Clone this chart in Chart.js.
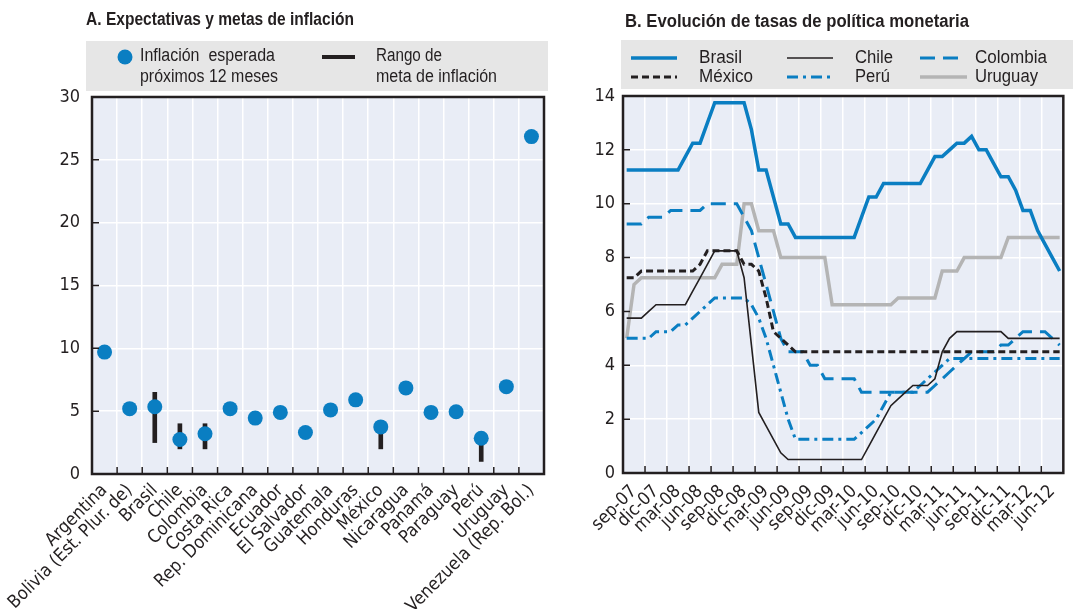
<!DOCTYPE html>
<html>
<head>
<meta charset="utf-8">
<script src="https://cdn.jsdelivr.net/npm/chart.js@4.4.1/dist/chart.umd.min.js"></script>
<style>
  body { margin: 0; width: 1083px; height: 609px; background: #fff; position: relative; overflow: hidden;
         font-family: 'Liberation Sans', Arial, sans-serif; color: #231f20; }
  canvas { position: absolute; top: 0; }
  .caja { position: absolute; background: #e6e6e6; }
  .t { position: absolute; white-space: pre; transform-origin: 0 0; font-size: 18px; line-height: 18px; }
  .b { font-weight: bold; }
  svg { position: absolute; left: 0; top: 0; }
</style>
</head>
<body>
<canvas id="graf1" width="560" height="609" style="left:0"></canvas>
<canvas id="graf2" width="523" height="609" style="left:560px"></canvas>

<div class="caja" style="left:86px; top:41px; width:462px; height:50px"></div>
<div class="caja" style="left:621px; top:40px; width:452px; height:49px"></div>

<svg width="1083" height="100">
  <circle cx="125" cy="57" r="7.5" fill="#0a7ec2"/>
  <line x1="322" y1="57" x2="355" y2="57" stroke="#231f20" stroke-width="4"/>
  <line x1="631" y1="58" x2="677" y2="58" stroke="#0a7ec2" stroke-width="3.5"/>
  <line x1="787" y1="58" x2="833" y2="58" stroke="#231f20" stroke-width="1.5"/>
  <line x1="920" y1="58" x2="961" y2="58" stroke="#0a7ec2" stroke-width="3" stroke-dasharray="15 8"/>
  <line x1="631" y1="77" x2="677" y2="77" stroke="#231f20" stroke-width="3" stroke-dasharray="7 4"/>
  <line x1="787" y1="77" x2="835" y2="77" stroke="#0a7ec2" stroke-width="3" stroke-dasharray="11 5 3 5"/>
  <line x1="920" y1="77" x2="967" y2="77" stroke="#b4b4b4" stroke-width="3.5"/>
</svg>

<!-- textos: data-w = ancho medido en la referencia -->
<div class="t b" data-w="268" style="left:86px; top:10px">A. Expectativas y metas de inflación</div>
<div class="t b" data-w="344" style="left:625px; top:12px">B. Evolución de tasas de política monetaria</div>

<div class="t" data-w="135" style="left:140px; top:46px">Inflación  esperada</div>
<div class="t" data-w="138" style="left:140px; top:67px">próximos 12 meses</div>
<div class="t" data-w="66" style="left:376px; top:46px">Rango de</div>
<div class="t" data-w="121" style="left:376px; top:67px">meta de inflación</div>

<div class="t" data-w="43" style="left:699px; top:48px">Brasil</div>
<div class="t" data-w="54" style="left:699px; top:67px">México</div>
<div class="t" data-w="38" style="left:855px; top:48px">Chile</div>
<div class="t" data-w="35" style="left:855px; top:67px">Perú</div>
<div class="t" data-w="72" style="left:975px; top:48px">Colombia</div>
<div class="t" data-w="63" style="left:975px; top:67px">Uruguay</div>

<script>
// A. Expectativas y metas de inflación
const paises = ['Argentina', 'Bolivia (Est. Plur. de)', 'Brasil', 'Chile', 'Colombia', 'Costa Rica',
  'Rep. Dominicana', 'Ecuador', 'El Salvador', 'Guatemala', 'Honduras', 'México', 'Nicaragua',
  'Panamá', 'Paraguay', 'Perú', 'Uruguay', 'Venezuela (Rep. Bol.)'];
const inflEsperada = [9.7, 5.2, 5.35, 2.75, 3.2, 5.2, 4.45, 4.9, 3.3, 5.1, 5.9, 3.75, 6.85, 4.9, 4.95, 2.85, 6.95, 26.85];
const metaMin = [null, null, 2.5, 2, 2, null, null, null, null, null, null, 2, null, null, null, 1, null, null];
const metaMax = [null, null, 6.5, 4, 4, null, null, null, null, null, null, 4, null, null, null, 3, null, null];

// B. Evolución de tasas de política monetaria (mensual, sep-07 a ago-12)
const meses = ['sep-07', 'oct-07', 'nov-07', 'dic-07', 'ene-08', 'feb-08', 'mar-08', 'abr-08', 'may-08', 'jun-08',
  'jul-08', 'ago-08', 'sep-08', 'oct-08', 'nov-08', 'dic-08', 'ene-09', 'feb-09', 'mar-09', 'abr-09', 'may-09',
  'jun-09', 'jul-09', 'ago-09', 'sep-09', 'oct-09', 'nov-09', 'dic-09', 'ene-10', 'feb-10', 'mar-10', 'abr-10',
  'may-10', 'jun-10', 'jul-10', 'ago-10', 'sep-10', 'oct-10', 'nov-10', 'dic-10', 'ene-11', 'feb-11', 'mar-11',
  'abr-11', 'may-11', 'jun-11', 'jul-11', 'ago-11', 'sep-11', 'oct-11', 'nov-11', 'dic-11', 'ene-12', 'feb-12',
  'mar-12', 'abr-12', 'may-12', 'jun-12', 'jul-12', 'ago-12'];
const trimestres = ['sep-07', 'dic-07', 'mar-08', 'jun-08', 'sep-08', 'dic-08', 'mar-09', 'jun-09', 'sep-09', 'dic-09',
  'mar-10', 'jun-10', 'sep-10', 'dic-10', 'mar-11', 'jun-11', 'sep-11', 'dic-11', 'mar-12', 'jun-12'];

const brasil = [11.25, 11.25, 11.25, 11.25, 11.25, 11.25, 11.25, 11.25, 11.75, 12.25, 12.25, 13, 13.75, 13.75, 13.75,
  13.75, 13.75, 12.75, 11.25, 11.25, 10.25, 9.25, 9.25, 8.75, 8.75, 8.75, 8.75, 8.75, 8.75, 8.75, 8.75, 8.75, 9.5,
  10.25, 10.25, 10.75, 10.75, 10.75, 10.75, 10.75, 10.75, 11.25, 11.75, 11.75, 12, 12.25, 12.25, 12.5, 12, 12, 11.5,
  11, 11, 10.5, 9.75, 9.75, 9, 8.5, 8, 7.5];
const chile = [5.75, 5.75, 5.75, 6, 6.25, 6.25, 6.25, 6.25, 6.25, 6.75, 7.25, 7.75, 8.25, 8.25, 8.25, 8.25, 7.25,
  4.75, 2.25, 1.75, 1.25, 0.75, 0.5, 0.5, 0.5, 0.5, 0.5, 0.5, 0.5, 0.5, 0.5, 0.5, 0.5, 1, 1.5, 2, 2.5, 2.75, 3,
  3.25, 3.25, 3.25, 3.5, 4.5, 5, 5.25, 5.25, 5.25, 5.25, 5.25, 5.25, 5.25, 5, 5, 5, 5, 5, 5, 5, 5];
const colombia = [9.25, 9.25, 9.25, 9.5, 9.5, 9.5, 9.75, 9.75, 9.75, 9.75, 9.75, 10, 10, 10, 10, 10, 9.5, 9, 8, 7,
  6, 5, 4.5, 4.5, 4.5, 4, 4, 3.5, 3.5, 3.5, 3.5, 3.5, 3, 3, 3, 3, 3, 3, 3, 3, 3, 3, 3.25, 3.5, 3.75, 4, 4.25,
  4.5, 4.5, 4.5, 4.5, 4.75, 4.75, 5, 5.25, 5.25, 5.25, 5.25, 5, 4.75];
const mexico = [7.25, 7.25, 7.5, 7.5, 7.5, 7.5, 7.5, 7.5, 7.5, 7.5, 7.75, 8.25, 8.25, 8.25, 8.25, 8.25, 7.75, 7.75,
  7.5, 6.5, 5.25, 5, 4.75, 4.5, 4.5, 4.5, 4.5, 4.5, 4.5, 4.5, 4.5, 4.5, 4.5, 4.5, 4.5, 4.5, 4.5, 4.5, 4.5, 4.5,
  4.5, 4.5, 4.5, 4.5, 4.5, 4.5, 4.5, 4.5, 4.5, 4.5, 4.5, 4.5, 4.5, 4.5, 4.5, 4.5, 4.5, 4.5, 4.5, 4.5];
const peru = [5, 5, 5, 5, 5.25, 5.25, 5.25, 5.5, 5.5, 5.75, 6, 6.25, 6.5, 6.5, 6.5, 6.5, 6.5, 6.25, 5.75, 5, 4, 3,
  2, 1.25, 1.25, 1.25, 1.25, 1.25, 1.25, 1.25, 1.25, 1.25, 1.5, 1.75, 2, 2.5, 3, 3, 3, 3, 3.25, 3.5, 3.75, 4,
  4.25, 4.25, 4.25, 4.25, 4.25, 4.25, 4.25, 4.25, 4.25, 4.25, 4.25, 4.25, 4.25, 4.25, 4.25, 4.25];
const uruguay = [5, 7, 7.25, 7.25, 7.25, 7.25, 7.25, 7.25, 7.25, 7.25, 7.25, 7.25, 7.25, 7.75, 7.75, 7.75, 10, 10,
  9, 9, 9, 8, 8, 8, 8, 8, 8, 8, 6.25, 6.25, 6.25, 6.25, 6.25, 6.25, 6.25, 6.25, 6.25, 6.5, 6.5, 6.5, 6.5, 6.5,
  6.5, 7.5, 7.5, 7.5, 8, 8, 8, 8, 8, 8, 8.75, 8.75, 8.75, 8.75, 8.75, 8.75, 8.75, 8.75];

const azul = '#0a7ec2';
const negro = '#231f20';
const gris = '#b4b4b4';
const fondo = '#e9edf6';

// angosta los textos html al ancho de la referencia (fuente condensada no disponible)
document.querySelectorAll('.t').forEach(el => {
  const w = el.getBoundingClientRect().width;
  el.style.transform = 'scaleX(' + (Number(el.dataset.w) / w) + ')';
});

Chart.defaults.font.family = "'DejaVu Sans Condensed', 'DejaVu Sans', sans-serif";
Chart.defaults.font.size = 18;
Chart.defaults.color = negro;

// fondo del area, marco y marcas hacia adentro
const marco = {
  id: 'marco',
  beforeDraw(chart) {
    const { ctx, chartArea: a } = chart;
    ctx.save();
    ctx.fillStyle = fondo;
    ctx.fillRect(a.left, a.top, a.width, a.height);
    ctx.restore();
  },
  afterDraw(chart, args, opts) {
    const { ctx, chartArea: a, scales } = chart;
    ctx.save();
    ctx.strokeStyle = negro;
    ctx.lineWidth = 1.5;
    ctx.beginPath();
    scales.y.ticks.forEach(t => {
      const y = scales.y.getPixelForValue(t.value);
      ctx.moveTo(a.left, y);
      ctx.lineTo(a.left + 7, y);
    });
    opts.cortes.forEach(k => {
      const x = scales.x.getPixelForValue(k - 0.5);
      ctx.moveTo(x, a.bottom);
      ctx.lineTo(x, a.bottom - 7);
    });
    ctx.stroke();
    ctx.lineWidth = 2.5;
    ctx.strokeRect(a.left, a.top, a.width, a.height);
    ctx.restore();
  }
};

new Chart(document.getElementById('graf1'), {
  type: 'bar',
  data: {
    labels: paises,
    datasets: [
      {
        type: 'line',
        label: 'Inflación esperada próximos 12 meses',
        data: inflEsperada,
        showLine: false,
        pointRadius: 7.5,
        pointBackgroundColor: azul,
        pointBorderWidth: 0,
        order: 1,
      },
      {
        label: 'Rango de meta de inflación',
        data: paises.map((p, i) => metaMin[i] === null ? null : [metaMin[i], metaMax[i]]),
        backgroundColor: negro,
        barThickness: 4,
        order: 2,
      },
    ],
  },
  options: {
    responsive: false,
    animation: false,
    layout: { autoPadding: false, padding: { top: 97, right: 16, left: 0, bottom: 0 } },
    plugins: {
      legend: { display: false },
      tooltip: { enabled: false },
      marco: { cortes: paises.slice(1).map((p, i) => i + 1) },
    },
    scales: {
      x: {
        afterFit: s => { s.height = 135; },
        grid: { color: '#fff', lineWidth: 1.5, drawTicks: false, offset: true },
        border: { display: false },
        ticks: { autoSkip: false, maxRotation: 45, minRotation: 45, padding: 6 },
      },
      y: {
        min: 0, max: 30,
        afterFit: s => { s.width = 92; },
        grid: { color: '#fff', lineWidth: 1.5, drawTicks: false },
        border: { display: false },
        ticks: { stepSize: 5, padding: 12 },
      },
    },
  },
  plugins: [marco],
});

function serie(label, data, color, width, dash) {
  return { label, data, borderColor: color, borderWidth: width, borderDash: dash, pointRadius: 0, tension: 0, fill: false };
}

new Chart(document.getElementById('graf2'), {
  type: 'line',
  data: {
    labels: meses,
    datasets: [
      serie('Chile', chile, negro, 1.6, []),
      serie('México', mexico, negro, 3, [7, 4]),
      serie('Perú', peru, azul, 3, [11, 5, 3, 5]),
      serie('Colombia', colombia, azul, 3, [15, 8]),
      serie('Brasil', brasil, azul, 3.5, []),
      serie('Uruguay', uruguay, gris, 3.5, []),
    ],
  },
  options: {
    responsive: false,
    animation: false,
    layout: { autoPadding: false, padding: { top: 96, right: 9, left: 0, bottom: 0 } },
    plugins: {
      legend: { display: false },
      tooltip: { enabled: false },
      marco: { cortes: trimestres.slice(1).map((t, i) => (i + 1) * 3) },
    },
    scales: {
      x: {
        offset: true,
        afterFit: s => { s.height = 136; },
        grid: {
          offset: true,
          lineWidth: 1.5,
          drawTicks: false,
          color: c => (c.index % 3 === 0 ? '#fff' : 'rgba(0,0,0,0)'),
        },
        border: { display: false },
        ticks: {
          autoSkip: false, maxRotation: 45, minRotation: 45, padding: 8,
          callback: (v, i) => (i % 3 === 1 ? trimestres[(i - 1) / 3] : ''),
        },
      },
      y: {
        min: 0, max: 14,
        afterFit: s => { s.width = 63; },
        grid: { color: '#fff', lineWidth: 1.5, drawTicks: false },
        border: { display: false },
        ticks: { stepSize: 2, padding: 8 },
      },
    },
  },
  plugins: [marco],
});
</script>
</body>
</html>
